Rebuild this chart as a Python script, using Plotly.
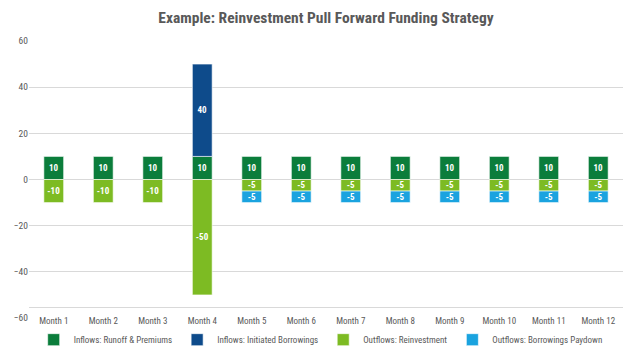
import plotly.graph_objects as go

months = [f"Month {i}" for i in range(1, 13)]
runoff = [10, 10, 10, 10, 10, 10, 10, 10, 10, 10, 10, 10]
borrowings = [None, None, None, 40, None, None, None, None, None, None, None, None]
reinvest = [-10, -10, -10, -50, -5, -5, -5, -5, -5, -5, -5, -5]
paydown = [None, None, None, None, -5, -5, -5, -5, -5, -5, -5, -5]
y_ticks = [-60, -40, -20, 0, 20, 40, 60]

FONT = "Roboto Condensed, Liberation Sans, sans-serif"
series = [
    ("Inflows: Runoff & Premiums", runoff, "#0B7D3B"),
    ("Inflows: Initiated Borrowings", borrowings, "#0E4B8B"),
    ("Outflows: Reinvestment", reinvest, "#7DBB23"),
    ("Outflows: Borrowings Paydown", paydown, "#1AA3DF"),
]

fig = go.Figure()
for name, vals, color in series:
    fig.add_trace(go.Bar(
        x=months, y=vals, name=name,
        marker=dict(color=color, line=dict(color="white", width=0.6)),
        text=[("" if v is None else str(v)) for v in vals],
        textposition="inside", insidetextanchor="middle", textangle=0,
        textfont=dict(color="white", size=9, family=FONT, weight="bold"),
    ))

fig.update_layout(
    width=635, height=352,
    barmode="relative", bargap=0.6,
    plot_bgcolor="white", paper_bgcolor="white",
    margin=dict(l=29, r=12, t=41, b=34, autoexpand=False),
    font=dict(family=FONT, color="#595959", size=9),
    title=dict(text="<b>Example: Reinvestment Pull Forward Funding Strategy</b>",
               xref="paper", x=0.5, xanchor="center", y=0.95, yanchor="middle",
               font=dict(size=15.5, color="#595959", family=FONT)),
    uniformtext=dict(minsize=9, mode="show"),
    legend=dict(orientation="h", xref="container", x=0.505, xanchor="center",
                yref="container", y=0.035, yanchor="middle",
                bgcolor="rgba(0,0,0,0)",
                font=dict(size=9, color="#595959"), itemwidth=30,
                traceorder="normal"),
    showlegend=True,
)
fig.update_yaxes(range=[-60, 60], tickvals=y_ticks, showgrid=True, gridcolor="#D9D9D9",
                 gridwidth=1, zeroline=True, zerolinecolor="#D9D9D9", zerolinewidth=1,
                 ticks="", tickfont=dict(size=9.5, color="#595959"), domain=[0, 1])
fig.update_xaxes(anchor="free", position=0.04, showline=True, linecolor="#D9D9D9",
                 linewidth=1, ticks="", tickfont=dict(size=9, color="#595959"),
                 ticklabelstandoff=5, showgrid=False)

fig.write_html("out.html")
